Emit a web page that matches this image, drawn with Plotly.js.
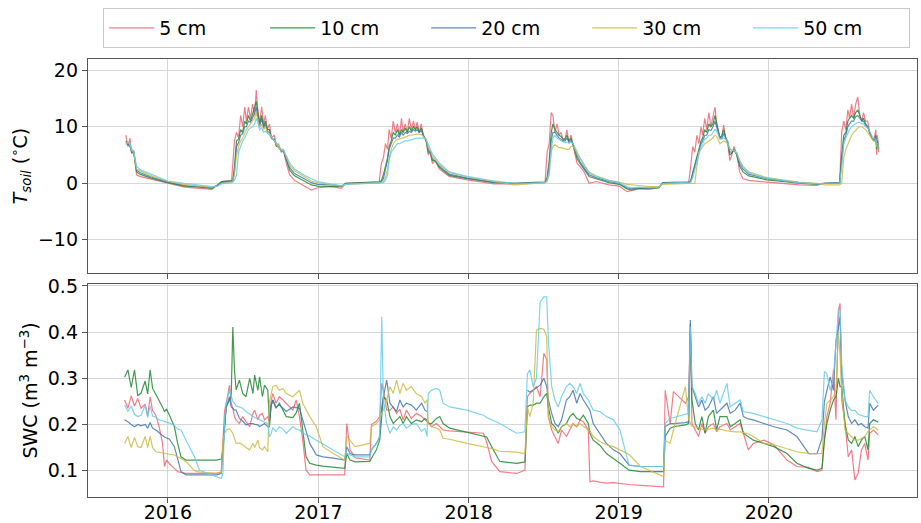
<!DOCTYPE html>
<html>
<head>
<meta charset="utf-8">
<script src="https://cdn.plot.ly/plotly-3.0.1.min.js"></script>
<style>html,body{margin:0;padding:0;background:#fff;}#chart{width:921px;height:523px;}</style>
</head>
<body>
<div id="chart"></div>
<script>
// ---------- labels / ticks ----------
const depthLabels = ['5 cm', '10 cm', '20 cm', '30 cm', '50 cm'];
const depthColors = ['#EE6677', '#228833', '#4477AA', '#CCBB44', '#66CCEE'];
const yearTickVals = ['2016-01-01', '2017-01-01', '2018-01-01', '2019-01-01', '2020-01-01'];
const yearTickText = ['2016', '2017', '2018', '2019', '2020'];
const tTickVals = [-10, 0, 10, 20];
const swcTickVals = [0.1, 0.2, 0.3, 0.4, 0.5];

// ---------- soil temperature (°C) ----------
const tDates = ['2015-09-21','2015-09-26','2015-10-01','2015-10-05','2015-10-10','2015-10-17','2015-10-25','2015-11-18','2016-01-01','2016-02-11',
'2016-03-19','2016-04-17','2016-05-01','2016-05-11','2016-06-04','2016-06-07','2016-06-11','2016-06-16','2016-06-21','2016-06-26',
'2016-07-01','2016-07-06','2016-07-10','2016-07-15','2016-07-20','2016-07-25','2016-07-30','2016-08-03','2016-08-06','2016-08-11',
'2016-08-16','2016-08-21','2016-08-25','2016-08-30','2016-09-04','2016-09-09','2016-09-16','2016-09-21','2016-09-26','2016-10-03',
'2016-10-08','2016-10-15','2016-10-23','2016-11-04','2016-11-28','2016-12-15','2016-12-30','2017-02-04','2017-02-26','2017-03-08',
'2017-04-11','2017-05-29','2017-06-03','2017-06-08','2017-06-13','2017-06-18','2017-06-22','2017-06-27','2017-07-02','2017-07-07',
'2017-07-12','2017-07-17','2017-07-22','2017-07-26','2017-07-31','2017-08-05','2017-08-10','2017-08-15','2017-08-20','2017-08-25',
'2017-08-29','2017-09-03','2017-09-08','2017-09-13','2017-09-20','2017-09-25','2017-09-30','2017-10-05','2017-10-12','2017-10-22',
'2017-11-15','2017-12-29','2018-03-04','2018-04-22','2018-05-28','2018-07-06','2018-07-11','2018-07-16','2018-07-21','2018-07-25',
'2018-07-30','2018-08-04','2018-08-09','2018-08-14','2018-08-19','2018-08-24','2018-08-28','2018-09-02','2018-09-07','2018-09-12',
'2018-09-17','2018-09-22','2018-09-29','2018-10-09','2018-10-21','2018-11-07','2018-12-08','2019-01-02','2019-01-21','2019-01-31',
'2019-02-19','2019-03-15','2019-04-09','2019-04-18','2019-06-20','2019-06-25','2019-06-30','2019-07-05','2019-07-10','2019-07-15',
'2019-07-20','2019-07-24','2019-07-29','2019-08-03','2019-08-08','2019-08-13','2019-08-18','2019-08-23','2019-08-27','2019-09-04',
'2019-09-09','2019-09-13','2019-09-18','2019-09-23','2019-09-28','2019-10-03','2019-10-08','2019-10-15','2019-10-22','2019-10-30',
'2019-11-13','2019-12-27','2020-03-14','2020-04-26','2020-05-16','2020-06-21','2020-06-26','2020-07-01','2020-07-06','2020-07-11',
'2020-07-15','2020-07-20','2020-07-25','2020-07-30','2020-08-04','2020-08-09','2020-08-14','2020-08-18','2020-08-23','2020-08-28',
'2020-09-02','2020-09-07','2020-09-12','2020-09-17','2020-09-19','2020-09-21','2020-09-24'];

const t5 = [8.5,6.5,8.0,5.2,5.8,1.5,1.2,0.8,0.0,-0.7,
-0.9,-1.1,-0.3,0.3,0.5,3.0,7.5,9.0,8.0,12.0,
10.0,13.5,11.0,13.5,11.5,14.0,12.0,16.5,13.5,10.5,
13.5,10.5,12.0,9.5,10.5,8.0,8.5,6.5,7.0,5.5,
5.8,3.5,1.5,0.5,-0.5,-1.2,-0.8,-0.6,-0.9,0.0,
0.1,0.3,3.5,4.5,7.0,6.0,9.5,8.0,11.0,9.0,
10.5,8.5,11.5,9.0,10.5,9.0,11.5,9.5,11.0,9.5,
10.8,9.0,10.5,8.5,7.5,5.0,5.5,3.5,4.0,2.5,
1.2,0.6,-0.1,-0.1,0.1,0.2,5.5,7.0,12.5,12.0,
9.0,10.5,8.5,9.0,7.5,8.0,9.5,7.0,8.5,6.5,
5.0,3.5,3.0,2.0,0.0,0.3,-0.3,-0.5,-1.5,-1.3,
-1.0,-1.1,-0.8,0.1,0.2,3.0,6.5,5.5,8.5,7.0,
10.0,8.5,11.5,9.5,12.5,10.0,12.0,13.5,10.5,8.0,
8.5,10.3,8.0,7.0,4.0,5.0,6.5,5.0,2.0,0.8,
0.5,0.2,-0.3,-0.4,0.0,0.1,9.0,11.0,9.5,13.0,
11.5,14.0,11.5,14.0,15.3,12.0,11.0,12.5,11.0,11.0,
9.0,8.0,7.5,9.5,5.0,8.5,5.5];

const t10 = [7.5,7.0,6.8,5.5,5.5,2.0,1.6,1.0,0.1,-0.5,
-0.7,-0.9,-0.3,0.3,0.4,0.5,3.0,7.5,7.8,9.5,
9.0,11.0,10.5,12.0,11.0,12.5,13.5,14.5,13.0,10.5,
12.0,10.0,11.0,9.5,9.5,8.0,7.8,6.5,6.5,5.7,
5.8,4.0,2.3,1.3,0.3,-0.3,-0.5,-0.5,-0.6,0.0,
0.1,0.2,0.5,1.5,3.0,4.5,6.5,7.5,9.0,8.5,
9.5,8.5,9.5,9.0,9.8,9.0,10.0,9.2,10.0,9.5,
10.0,9.0,9.8,8.5,7.5,5.5,5.5,4.0,4.0,2.8,
1.4,0.8,0.1,0.0,0.1,0.2,1.0,4.0,9.0,10.5,
9.5,9.0,8.5,8.3,7.8,7.8,8.5,7.5,8.0,6.8,
5.5,4.3,3.5,2.5,1.2,0.8,0.1,-0.2,-1.0,-1.2,
-0.9,-0.9,-0.8,0.1,0.2,0.5,2.0,3.5,5.0,6.0,
7.5,8.0,9.5,9.0,10.5,10.0,10.5,12.0,10.5,8.0,
8.5,9.5,8.0,7.3,5.0,5.3,6.0,5.0,3.0,2.0,
1.3,0.6,0.0,-0.2,0.0,0.1,5.0,8.5,9.0,11.0,
11.5,12.0,11.5,12.5,13.0,12.0,11.0,11.5,10.5,10.0,
9.0,8.0,7.5,8.5,6.0,7.5,6.0];

const t20 = [7.2,6.8,6.5,5.6,5.6,2.3,1.9,1.2,0.2,-0.4,
-0.6,-0.8,-0.4,0.1,0.3,0.4,2.0,6.5,7.2,8.5,
8.8,10.0,10.0,11.0,10.8,11.5,12.5,13.5,12.0,10.0,
11.5,9.8,10.5,9.2,9.0,8.0,7.5,6.8,6.3,5.8,
5.8,4.3,2.8,1.7,0.7,0.1,-0.2,-0.3,-0.5,-0.1,
0.0,0.1,0.3,0.8,2.5,4.0,6.0,7.0,8.0,8.0,
8.5,8.2,9.0,8.5,9.0,8.8,9.2,9.0,9.5,9.2,
9.5,9.0,9.3,8.5,7.7,6.0,5.5,4.3,4.0,3.0,
1.6,0.9,0.2,0.0,0.0,0.1,0.8,3.0,7.5,9.0,
9.0,8.5,8.0,7.8,7.5,7.5,8.0,7.3,7.5,7.0,
5.8,4.8,3.8,2.8,1.5,1.0,0.3,0.0,-0.8,-1.0,
-0.8,-0.9,-0.7,0.0,0.1,0.3,1.5,3.0,4.5,5.5,
7.0,7.5,8.5,8.5,9.5,9.3,10.0,11.0,10.0,8.0,
8.0,8.8,8.0,7.3,5.5,5.5,5.8,5.2,3.5,2.5,
1.6,0.8,0.1,-0.1,0.0,0.0,4.0,7.5,8.5,10.0,
10.5,11.0,11.0,11.8,12.0,11.5,11.0,11.0,10.3,10.0,
9.0,8.0,7.8,8.2,6.5,7.0,6.3];

const t30 = [7.0,7.3,6.8,5.8,5.6,2.5,2.2,1.4,0.3,-0.2,
-0.5,-0.7,-0.5,0.0,0.2,0.3,1.5,5.0,6.5,7.5,
8.0,9.0,9.5,10.0,10.5,11.0,11.5,12.5,11.5,9.8,
10.5,9.5,10.0,9.0,8.8,8.2,7.5,7.0,6.3,5.8,
5.8,4.7,3.2,2.2,1.1,0.4,0.1,-0.3,-0.5,-0.2,
-0.1,0.0,0.1,0.3,1.0,2.5,4.5,6.0,7.0,7.5,
7.8,7.8,8.0,8.0,8.2,8.3,8.5,8.5,8.6,8.6,
8.7,8.7,8.6,8.3,7.8,6.3,5.8,4.8,4.2,3.3,
1.9,1.1,0.3,-0.3,-0.1,0.1,0.3,1.5,5.5,6.5,
6.8,6.5,6.3,6.3,6.2,6.0,6.0,6.0,6.5,6.5,
6.0,5.2,4.3,3.2,2.0,1.3,0.5,0.2,-0.2,-0.3,
-0.4,-0.6,-0.6,-0.2,-0.1,0.0,0.0,0.0,3.0,5.5,
6.0,6.5,7.0,7.2,7.5,7.8,8.0,8.5,8.3,7.0,
7.2,7.5,7.3,7.0,6.0,5.8,5.8,5.3,4.0,3.0,
2.0,1.0,0.2,0.0,-0.3,-0.3,0.0,4.5,6.0,7.0,
7.8,8.5,9.0,9.3,9.8,10.0,10.0,9.8,9.5,9.0,
8.5,8.0,7.5,7.3,6.5,6.5,6.0];

const t50 = [6.8,7.2,7.0,6.0,5.8,3.0,2.4,1.7,0.4,0.0,
-0.3,-0.6,-0.5,-0.1,0.1,0.2,0.5,1.5,5.5,6.5,
7.5,8.0,8.8,9.5,9.8,10.0,10.5,11.5,11.0,9.5,
9.8,9.0,9.2,8.8,8.5,8.2,7.5,7.2,6.5,6.0,
6.0,5.0,3.6,2.5,1.4,0.8,0.3,-0.2,-0.4,-0.2,
-0.1,0.0,0.0,0.1,0.5,1.5,4.0,5.5,6.0,6.5,
7.0,7.0,7.2,7.3,7.5,7.5,7.6,7.8,7.8,8.0,
8.0,8.0,8.0,8.0,7.8,6.8,6.0,5.2,4.5,3.6,
2.0,1.2,0.4,0.0,0.0,0.1,0.5,2.0,6.0,8.0,
8.5,8.0,7.8,7.5,7.3,7.2,7.3,7.2,7.3,7.0,
6.2,5.5,4.5,3.3,1.8,1.2,0.5,0.1,-0.6,-0.8,
-0.7,-0.8,-0.7,0.0,0.1,0.2,1.0,2.5,4.0,5.5,
6.5,7.0,7.8,8.0,8.5,8.5,9.0,9.5,9.3,7.8,
7.8,8.0,7.8,7.5,6.2,5.8,5.8,5.4,4.0,2.8,
1.8,0.9,0.1,-0.1,0.0,0.0,3.0,7.0,8.0,9.0,
9.5,10.0,10.3,10.5,10.8,10.8,10.5,10.5,10.0,9.8,
9.0,8.5,8.0,7.8,7.0,7.0,6.5];

// ---------- soil water content (m3 m-3) ----------
const swcDates = ['2015-09-18','2015-09-26','2015-10-04','2015-10-12','2015-10-20','2015-10-28','2015-11-07','2015-11-13','2015-11-19','2015-11-25',
'2015-12-03','2015-12-11','2015-12-19','2015-12-24','2015-12-29','2016-01-05','2016-01-17','2016-01-25','2016-02-02','2016-02-14',
'2016-03-06','2016-03-18','2016-04-03','2016-04-28','2016-05-10','2016-05-14','2016-05-18','2016-05-22','2016-05-30','2016-06-03',
'2016-06-07','2016-06-11','2016-06-15','2016-06-23','2016-07-01','2016-07-09','2016-07-18','2016-07-26','2016-07-30','2016-08-07',
'2016-08-11','2016-08-18','2016-08-23','2016-08-31','2016-09-04','2016-09-08','2016-09-12','2016-09-20','2016-09-28','2016-10-07',
'2016-10-15','2016-10-31','2016-11-08','2016-11-16','2016-11-24','2016-12-02','2016-12-11','2016-12-27','2017-01-12','2017-02-06',
'2017-03-06','2017-03-11','2017-03-19','2017-03-31','2017-05-06','2017-05-10','2017-05-22','2017-05-30','2017-06-04','2017-06-08',
'2017-06-16','2017-06-24','2017-07-02','2017-07-10','2017-07-18','2017-07-26','2017-08-03','2017-08-15','2017-08-27','2017-09-09',
'2017-09-17','2017-09-22','2017-09-25','2017-10-03','2017-10-15','2017-10-23','2017-10-31','2017-11-16','2017-12-28','2018-02-06',
'2018-02-14','2018-02-26','2018-03-18','2018-04-28','2018-05-18','2018-05-24','2018-05-30','2018-06-07','2018-06-15','2018-06-24',
'2018-07-03','2018-07-10','2018-07-14','2018-07-22','2018-07-30','2018-08-07','2018-08-15','2018-08-27','2018-09-04','2018-09-12',
'2018-09-21','2018-09-29','2018-10-07','2018-10-19','2018-10-23','2018-10-31','2018-11-16','2018-12-02','2018-12-19','2019-01-04',
'2019-01-26','2019-02-23','2019-04-20','2019-04-24','2019-05-06','2019-05-14','2019-06-12','2019-06-20','2019-06-24','2019-06-28',
'2019-07-06','2019-07-14','2019-07-22','2019-07-30','2019-08-07','2019-08-19','2019-08-27','2019-09-04','2019-09-21','2019-09-29',
'2019-10-11','2019-10-23','2019-10-31','2019-11-12','2019-11-24','2019-12-20','2020-01-13','2020-02-14','2020-03-09','2020-04-07',
'2020-04-27','2020-05-09','2020-05-15','2020-05-21','2020-05-29','2020-06-06','2020-06-12','2020-06-18','2020-06-22','2020-06-26',
'2020-07-04','2020-07-12','2020-07-20','2020-07-28','2020-08-05','2020-08-13','2020-08-21','2020-08-29','2020-09-02','2020-09-11',
'2020-09-23'];

const swc5 = [.253,.235,.262,.240,.256,.235,.244,.218,.260,.230,
.220,.195,.160,.109,.123,.115,.105,.098,.096,.094,
.094,.094,.094,.094,.097,.180,.230,.246,.285,.246,
.235,.217,.210,.202,.217,.206,.195,.224,.231,.210,
.220,.224,.210,.217,.206,.250,.267,.246,.260,.253,
.246,.231,.253,.217,.166,.101,.091,.091,.091,.091,
.091,.202,.145,.128,.123,.200,.207,.217,.289,.274,
.231,.231,.238,.224,.233,.210,.231,.213,.224,.217,
.210,.206,.206,.195,.202,.195,.188,.186,.184,.181,
.162,.120,.098,.094,.101,.260,.267,.274,.282,.260,
.354,.340,.217,.188,.174,.159,.188,.174,.188,.202,
.195,.210,.206,.188,.076,.078,.075,.073,.074,.072,
.070,.068,.065,.274,.202,.271,.246,.260,.418,.202,
.188,.174,.202,.181,.195,.202,.184,.195,.202,.188,
.195,.202,.181,.145,.159,.166,.156,.123,.109,.107,
.098,.101,.170,.217,.246,.318,.210,.447,.462,.253,
.202,.130,.145,.080,.095,.145,.159,.123,.181,.188,
.177];

const swc10 = [.302,.318,.280,.318,.262,.268,.294,.266,.318,.278,
.265,.253,.238,.228,.233,.220,.195,.159,.130,.123,
.123,.123,.123,.123,.125,.145,.200,.238,.253,.260,
.411,.318,.275,.296,.267,.260,.300,.267,.307,.274,
.303,.260,.285,.274,.202,.240,.253,.235,.246,.230,
.217,.215,.225,.246,.188,.130,.116,.112,.110,.108,
.105,.137,.123,.119,.120,.127,.145,.166,.210,.260,
.253,.217,.202,.210,.217,.202,.217,.202,.210,.206,
.213,.210,.202,.202,.213,.217,.202,.192,.183,.174,
.173,.152,.120,.116,.119,.238,.242,.242,.246,.246,
.260,.267,.238,.202,.195,.181,.195,.202,.217,.224,
.213,.210,.220,.202,.181,.166,.155,.137,.127,.116,
.101,.098,.098,.174,.192,.195,.199,.202,.404,.253,
.202,.188,.217,.181,.217,.231,.188,.217,.217,.195,
.202,.210,.181,.174,.166,.159,.152,.137,.116,.105,
.101,.105,.166,.202,.231,.253,.260,.300,.282,.282,
.202,.166,.159,.174,.152,.166,.174,.145,.202,.210,
.205];

const swc20 = [.210,.206,.200,.195,.200,.197,.200,.192,.204,.192,
.188,.181,.176,.173,.171,.168,.152,.123,.098,.091,
.091,.091,.091,.091,.094,.150,.202,.238,.260,.238,
.235,.231,.231,.213,.208,.199,.202,.202,.200,.199,
.195,.199,.202,.195,.195,.240,.253,.238,.242,.235,
.228,.238,.236,.235,.210,.185,.159,.134,.130,.127,
.123,.152,.137,.134,.134,.145,.159,.174,.238,.260,
.296,.246,.238,.228,.253,.238,.246,.242,.231,.246,
.231,.228,null,null,null,null,null,null,null,null,
null,null,null,null,null,.274,.270,.274,.280,.285,
.300,.282,.253,.224,.202,.195,.210,.253,.260,.274,
.246,.267,.253,.238,.231,.202,.181,.159,.145,.137,
.112,.109,.109,.195,.202,.202,.204,.206,.426,.282,
.260,.238,.253,.231,.238,.260,.224,.231,.246,.224,
.231,.246,.217,.212,.210,.202,.195,.188,.174,.137,
.137,.170,.250,.274,.303,.274,.380,.410,.433,.310,
.253,.217,.202,.210,.199,.202,.195,.192,.246,.231,
.242];

const swc30 = [.159,.174,.150,.172,.152,.150,.174,.150,.174,.150,
.141,.140,.138,.137,.137,.137,.134,.130,.126,.120,
.100,.097,.096,.094,.096,.166,.180,.188,.191,.185,
.181,.170,.159,.160,.156,.150,.145,.159,.150,.166,
.150,.145,.152,.141,.250,.265,.282,.285,.274,.278,
.267,.260,.267,.274,.246,.232,.217,.195,.152,.137,
.123,.174,.166,.152,.159,.195,.202,.210,.224,.231,
.253,.282,.267,.296,.267,.289,.274,.282,.267,.260,
.246,.253,.202,.195,.192,.188,.170,.168,.159,.152,
.150,.148,.142,.140,.137,.238,.217,.246,.404,.408,
.406,.390,.217,.195,.188,.185,.195,.202,.195,.200,
.195,.202,.196,.188,.186,.174,.163,.156,.152,.145,
.135,.109,.087,.166,.159,.188,.282,.210,.202,.196,
.195,.192,.190,.188,.190,.192,.188,.190,.186,.185,
.184,.184,.183,.180,.174,.159,.156,.148,.141,.137,
.137,.137,.202,.246,.253,.260,.275,.400,.350,.274,
.188,.181,.174,.166,.166,.170,.174,.185,.188,.195,
.188];

const swc50 = [.242,.228,.240,.222,.217,.220,.242,.215,.240,.218,
.216,.210,.208,.206,.205,.203,.198,.190,.188,.166,
.130,.101,.095,.087,.083,.095,.210,.246,.275,.260,
.250,.246,.240,.238,.235,.228,.222,.217,.215,.212,
.210,.207,.205,.202,.173,.180,.192,.185,.195,.190,
.181,.195,.190,.188,.181,.178,.175,.166,.158,.145,
.130,.137,.134,.130,.130,.145,.159,.174,.433,.253,
.202,.181,.195,.188,.198,.202,.192,.200,.202,.185,
.192,.174,.267,.274,.278,.274,.246,.238,.231,.220,
.215,.210,.202,.181,.184,.310,.318,.282,.300,.465,
.476,.476,.383,.282,.253,.238,.260,.282,.289,.282,
.267,.289,.267,.253,.246,.231,.228,.217,.210,.188,
.112,.109,.109,.202,.213,.215,.222,.224,.411,.282,
.267,.246,.260,.246,.267,.253,.274,.246,.289,.238,
.246,.253,.228,.226,.224,.217,.210,.202,.192,.188,
.184,.210,.315,.310,.274,.303,.370,.447,.447,.330,
.253,.238,.230,.231,.222,.220,.217,.217,.274,.260,
.245];

// ---------- build traces ----------
const tSeries = [t5, t10, t20, t30, t50];
const swcSeries = [swc5, swc10, swc20, swc30, swc50];
const traces = [];
for (let i = 0; i < depthLabels.length; i++) {
  traces.push({
    x: tDates, y: tSeries[i], type: 'scatter', mode: 'lines',
    name: depthLabels[i], legendgroup: depthLabels[i], showlegend: true,
    line: {color: depthColors[i], width: 1.2}, opacity: 0.85,
    xaxis: 'x', yaxis: 'y'
  });
}
for (let i = 0; i < depthLabels.length; i++) {
  traces.push({
    x: swcDates, y: swcSeries[i], type: 'scatter', mode: 'lines',
    name: depthLabels[i], legendgroup: depthLabels[i], showlegend: false,
    line: {color: depthColors[i], width: 1.2}, opacity: 0.85,
    xaxis: 'x2', yaxis: 'y2'
  });
}

const FONT = 'DejaVu Sans, Liberation Sans, sans-serif';
const frame = {showline: true, mirror: true, linecolor: '#555', linewidth: 1.2,
  ticks: 'outside', ticklen: 5, tickcolor: '#555', showgrid: true,
  gridcolor: '#d6d6d6', gridwidth: 1, zeroline: false,
  tickfont: {family: FONT, size: 19, color: '#000'}};

const xRange = ['2015-06-21', '2020-12-26'];

const layout = {
  width: 921, height: 523,
  paper_bgcolor: '#fff', plot_bgcolor: '#fff',
  margin: {l: 88, r: 4, t: 59, b: 26},
  font: {family: FONT, size: 19, color: '#000'},
  showlegend: true,
  legend: {orientation: 'h', x: 0.505, xanchor: 'center', y: 1.025, yanchor: 'bottom',
    bordercolor: '#c8c8c8', borderwidth: 1, bgcolor: '#fff',
    font: {family: FONT, size: 19, color: '#000'},
    itemwidth: 45, entrywidth: 101, entrywidthmode: 'pixels', traceorder: 'normal'},
  xaxis: Object.assign({}, frame, {anchor: 'y', domain: [0, 1], type: 'date', range: xRange,
    tickvals: yearTickVals, ticktext: yearTickText, showticklabels: false}),
  yaxis: Object.assign({}, frame, {anchor: 'x', domain: [0.5114, 1], range: [-15.9, 22],
    tickvals: tTickVals,
    title: {text: '<i>T</i><sub><i>soil</i></sub> (<sup>∘</sup>C)', standoff: 5,
      font: {family: FONT, size: 19, color: '#000'}}}),
  xaxis2: Object.assign({}, frame, {anchor: 'y2', domain: [0, 1], type: 'date', range: xRange,
    matches: 'x', tickvals: yearTickVals, ticktext: yearTickText, showticklabels: true,
    ticklabelstandoff: -7}),
  yaxis2: Object.assign({}, frame, {anchor: 'x2', domain: [0, 0.4863], range: [0.043, 0.504],
    tickvals: swcTickVals, tickformat: '.1f',
    title: {text: 'SWC (m<sup>3</sup> m<sup>−3</sup>)', standoff: 5,
      font: {family: FONT, size: 19, color: '#000'}}})
};

Plotly.newPlot('chart', traces, layout, {displayModeBar: false, staticPlot: true});
</script>
</body>
</html>
